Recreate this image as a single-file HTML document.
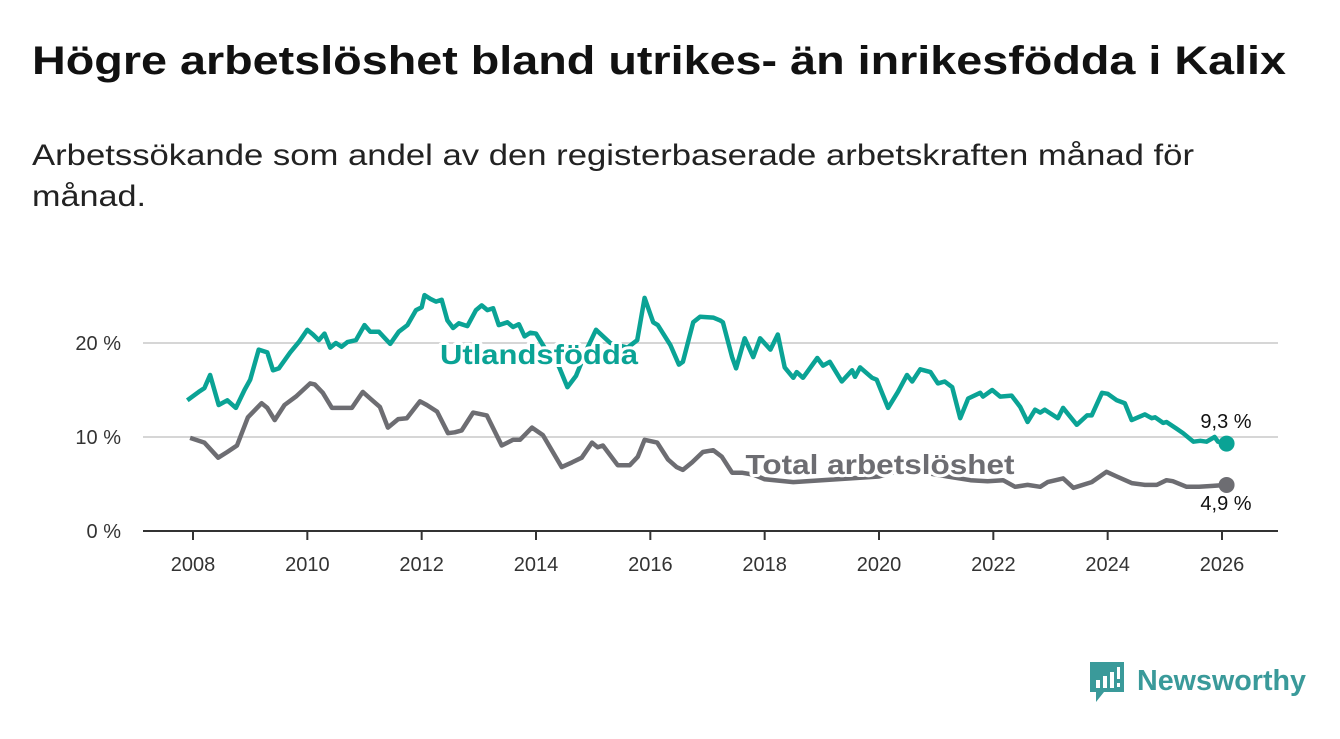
<!DOCTYPE html>
<html><head><meta charset="utf-8">
<style>
body{margin:0;background:#fff;width:1340px;height:734px;overflow:hidden;font-family:"Liberation Sans",sans-serif;}
svg text{font-family:"Liberation Sans",sans-serif;}
</style></head>
<body>
<svg width="1340" height="734">
<text x="32" y="74" font-size="40" font-weight="bold" fill="#111" textLength="1254" lengthAdjust="spacingAndGlyphs">Högre arbetslöshet bland utrikes- än inrikesfödda i Kalix</text>
<text x="32" y="165" font-size="30" fill="#222" textLength="1162" lengthAdjust="spacingAndGlyphs">Arbetssökande som andel av den registerbaserade arbetskraften månad för</text>
<text x="32" y="206" font-size="30" fill="#222" textLength="114" lengthAdjust="spacingAndGlyphs">månad.</text>
<g id="grid"></g><g id="axis"></g><g id="lines"></g><g id="labels"></g>
<g>
<path d="M1090 662h34v30h-20l-8 10v-10h-6z" fill="#3a9a9a"/>
<rect x="1096" y="680" width="4" height="8" fill="#fff"/><rect x="1103" y="676" width="4" height="12" fill="#fff"/><rect x="1110" y="672" width="4" height="16" fill="#fff"/><rect x="1117" y="667" width="3" height="12" fill="#fff"/><rect x="1117" y="683" width="3" height="4" fill="#fff"/>
<text x="1137" y="690" font-size="29" fill="#3a9a9a" font-weight="bold" textLength="169" lengthAdjust="spacingAndGlyphs">Newsworthy</text>
</g>
</svg>
<script>
const NS="http://www.w3.org/2000/svg";
const yTicks=[0,10,20];
const xTicks=[2008,2010,2012,2014,2016,2018,2020,2022,2024,2026];
const foreignT=[2007.9,2008.1,2008.2,2008.3,2008.45,2008.6,2008.75,2008.9,2009.0,2009.15,2009.3,2009.4,2009.5,2009.7,2009.85,2010.0,2010.1,2010.2,2010.3,2010.4,2010.5,2010.6,2010.7,2010.85,2011.0,2011.1,2011.25,2011.45,2011.6,2011.75,2011.9,2012.0,2012.05,2012.15,2012.25,2012.35,2012.45,2012.55,2012.65,2012.8,2012.95,2013.05,2013.15,2013.25,2013.35,2013.5,2013.6,2013.7,2013.8,2013.9,2014.0,2014.2,2014.4,2014.55,2014.7,2014.9,2015.05,2015.3,2015.6,2015.77,2015.9,2016.05,2016.13,2016.35,2016.5,2016.57,2016.75,2016.87,2017.1,2017.22,2017.27,2017.43,2017.5,2017.65,2017.8,2017.92,2018.1,2018.23,2018.35,2018.5,2018.56,2018.67,2018.92,2019.02,2019.14,2019.35,2019.53,2019.58,2019.67,2019.88,2019.96,2020.16,2020.33,2020.49,2020.58,2020.72,2020.9,2021.03,2021.15,2021.28,2021.42,2021.56,2021.77,2021.82,2021.98,2022.12,2022.32,2022.47,2022.6,2022.73,2022.82,2022.9,2023.13,2023.22,2023.46,2023.64,2023.72,2023.9,2024.0,2024.16,2024.3,2024.42,2024.65,2024.77,2024.83,2024.97,2025.03,2025.2,2025.32,2025.5,2025.62,2025.73,2025.87,2025.93,2026.08];
const foreignV=[13.9,14.8,15.2,16.6,13.4,13.9,13.1,15.0,16.1,19.3,19.0,17.1,17.3,19.0,20.1,21.4,20.9,20.3,21.0,19.5,20.0,19.6,20.1,20.3,21.9,21.2,21.2,19.9,21.2,21.9,23.5,23.8,25.1,24.7,24.4,24.6,22.4,21.6,22.1,21.8,23.5,24.0,23.5,23.7,21.9,22.2,21.7,22.0,20.7,21.1,21.0,19.0,17.5,15.3,16.5,19.5,21.4,20.0,19.5,20.3,24.8,22.2,21.9,19.8,17.7,18.0,22.2,22.8,22.7,22.4,22.2,18.5,17.3,20.5,18.5,20.5,19.3,20.9,17.4,16.3,16.9,16.3,18.4,17.6,18.0,15.9,17.1,16.4,17.4,16.3,16.1,13.1,14.8,16.6,15.9,17.2,16.9,15.7,15.9,15.3,12.0,14.1,14.7,14.3,15.0,14.3,14.4,13.2,11.6,12.9,12.6,12.9,12.0,13.1,11.3,12.3,12.3,14.7,14.6,13.9,13.6,11.8,12.4,12.0,12.1,11.5,11.6,10.9,10.4,9.5,9.6,9.5,10.0,9.5,9.3];
const totalT=[2007.95,2008.2,2008.44,2008.6,2008.77,2008.96,2009.2,2009.3,2009.43,2009.6,2009.8,2010.05,2010.13,2010.27,2010.43,2010.57,2010.78,2010.97,2011.1,2011.27,2011.41,2011.59,2011.74,2011.97,2012.09,2012.27,2012.46,2012.58,2012.7,2012.9,2013.14,2013.4,2013.6,2013.72,2013.93,2014.12,2014.45,2014.63,2014.8,2014.98,2015.08,2015.17,2015.43,2015.64,2015.78,2015.9,2016.12,2016.31,2016.46,2016.57,2016.73,2016.92,2017.1,2017.25,2017.43,2017.6,2017.8,2018.0,2018.5,2019.0,2019.5,2020.0,2020.4,2020.8,2021.2,2021.6,2021.9,2022.17,2022.38,2022.6,2022.82,2022.95,2023.22,2023.4,2023.72,2023.98,2024.16,2024.42,2024.65,2024.86,2025.03,2025.14,2025.38,2025.6,2025.84,2026.08];
const totalV=[9.9,9.4,7.8,8.4,9.1,12.1,13.6,13.1,11.8,13.4,14.3,15.7,15.6,14.7,13.1,13.1,13.1,14.8,14.1,13.2,11.0,11.9,12.0,13.8,13.4,12.7,10.4,10.5,10.7,12.6,12.3,9.1,9.7,9.7,11.0,10.2,6.8,7.3,7.8,9.4,8.9,9.1,7.0,7.0,7.9,9.7,9.4,7.6,6.8,6.5,7.3,8.4,8.6,7.9,6.2,6.2,6.0,5.5,5.2,5.4,5.6,5.8,6.5,6.2,5.8,5.4,5.3,5.4,4.7,4.9,4.7,5.2,5.6,4.6,5.2,6.3,5.8,5.1,4.9,4.9,5.4,5.3,4.7,4.7,4.8,4.9];
const X0=143,X1=1278;
const xs=t=>193+(t-2008)*(1029/18);
const ys=v=>531-v*9.4;
function el(tag,attrs,parent){const e=document.createElementNS(NS,tag);for(const k in attrs)e.setAttribute(k,attrs[k]);parent.appendChild(e);return e;}
const grid=document.getElementById('grid'),axis=document.getElementById('axis'),lines=document.getElementById('lines'),labels=document.getElementById('labels');
yTicks.forEach(v=>{
  if(v>0){const g=el('line',{x1:X0,x2:X1,y1:ys(v),y2:ys(v),stroke:'#d6d6d6','stroke-width':2},grid);
  
  }
  const t=el('text',{x:121,y:ys(v)+7,'font-size':20,fill:'#333','text-anchor':'end'},axis);t.textContent=v+' %';
  
  
});
const base=el('line',{x1:X0,x2:X1,y1:531,y2:531,stroke:'#333','stroke-width':2},axis);


xTicks.forEach(y=>{
  el('line',{x1:xs(y),x2:xs(y),y1:531,y2:540,stroke:'#333','stroke-width':2},axis);
  const t=el('text',{x:xs(y),y:571,'font-size':20,fill:'#333','text-anchor':'middle'},axis);t.textContent=y;
  
  
});
function path(T,V){return T.map((t,i)=>(i?'L':'M')+xs(t).toFixed(1)+' '+ys(V[i]).toFixed(1)).join(' ');}
const pt=el('path',{d:path(totalT,totalV),fill:'none',stroke:'#6d6d72','stroke-width':4.5,'stroke-linejoin':'round'},lines);


const pf=el('path',{d:path(foreignT,foreignV),fill:'none',stroke:'#0aa395','stroke-width':4.5,'stroke-linejoin':'round'},lines);


const lt=totalT.length-1,lf=foreignT.length-1;
const d1=el('circle',{cx:xs(totalT[lt]),cy:ys(totalV[lt]),r:8,fill:'#6d6d72'},lines);


const d2=el('circle',{cx:xs(foreignT[lf]),cy:ys(foreignV[lf]),r:8,fill:'#0aa395'},lines);


function lab(x,y,txt,fill,size,bold,anchor,name,len){const a={x:x,y:y,'font-size':size,fill:fill,'font-weight':bold?'bold':'normal','text-anchor':anchor,stroke:'#fff','stroke-width':6,'paint-order':'stroke','stroke-linejoin':'round'};if(len){a.textLength=len;a.lengthAdjust='spacingAndGlyphs';}const t=el('text',a,labels);t.textContent=txt;

}
lab(539,364,'Utlandsfödda','#0aa395',28,true,'middle','foreign-born-label',198);
lab(880,474,'Total arbetslöshet','#6d6d72',28,true,'middle','total-label',269);
lab(1226,428,(''+foreignV[lf]).replace('.',',')+' %','#111',20,false,'middle','foreign-end-value');
lab(1226,510,(''+totalV[lt]).replace('.',',')+' %','#111',20,false,'middle','total-end-value');
</script>
</body></html>
